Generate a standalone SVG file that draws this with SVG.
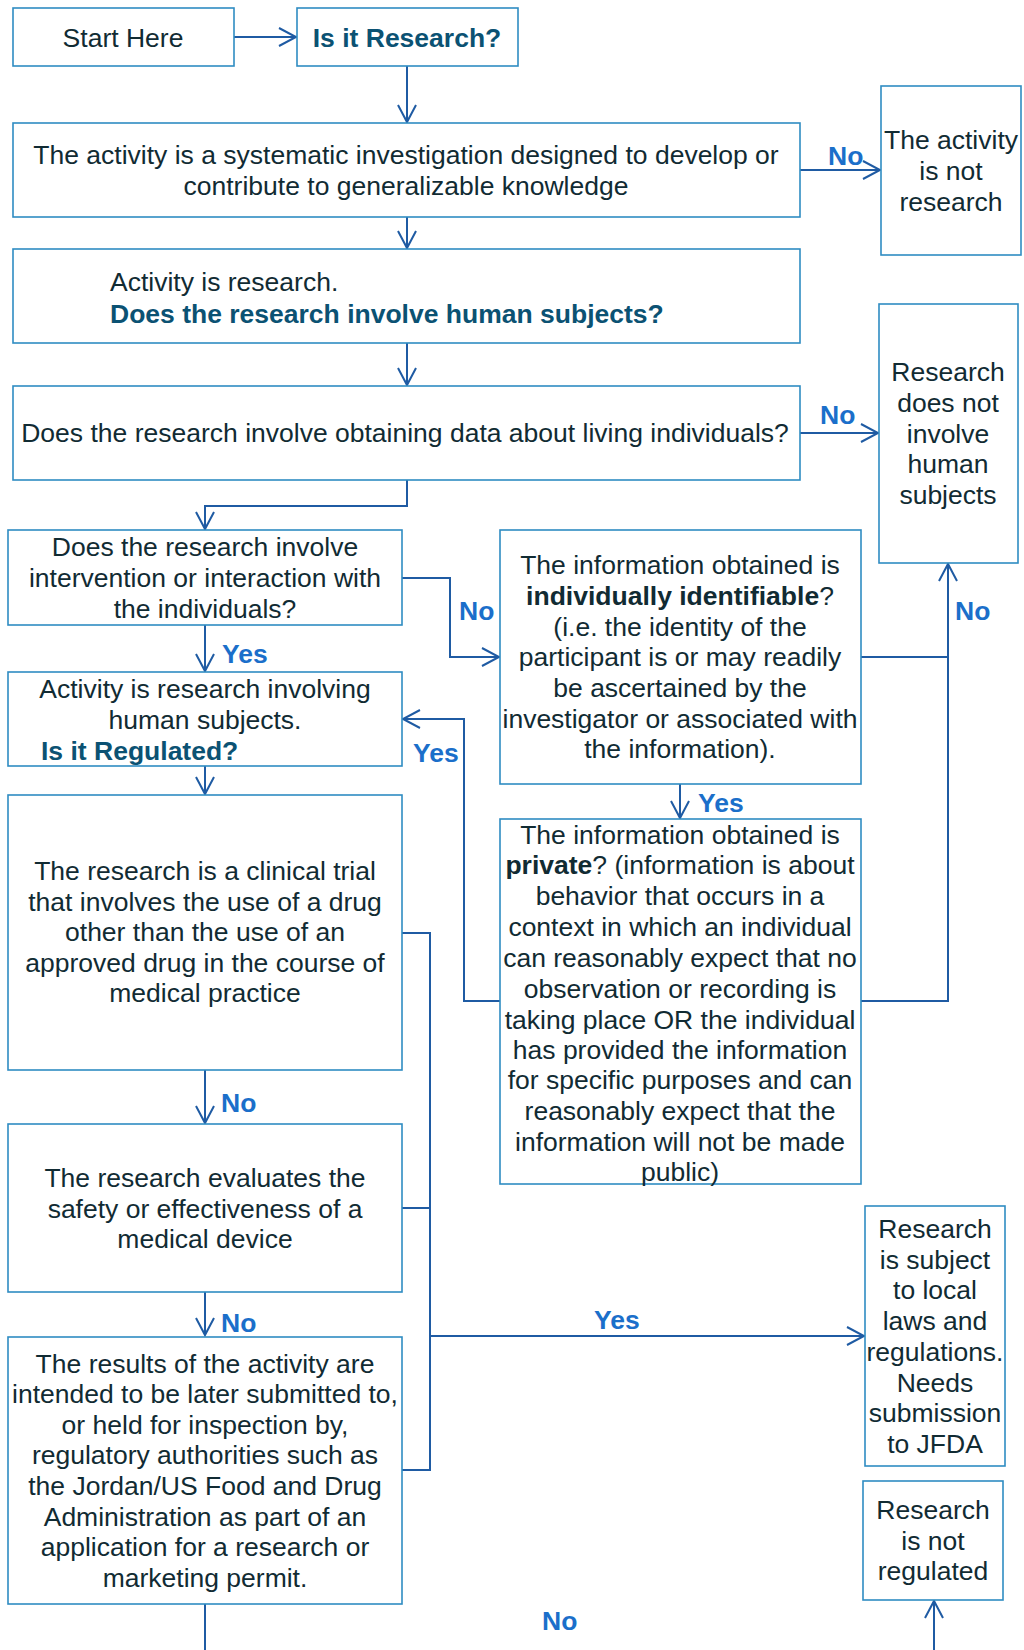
<svg xmlns="http://www.w3.org/2000/svg" width="1024" height="1650" viewBox="0 0 1024 1650">
<style>
.box{fill:#ffffff;stroke:#2f8cc2;stroke-width:1.6}
.t{font-family:"Liberation Sans",Arial,sans-serif;font-size:26.5px;fill:#112b33;text-anchor:middle}
.l{text-anchor:start}
.h{font-weight:bold;fill:#0b5273}
.b{font-weight:bold}
.lab{font-family:"Liberation Sans",Arial,sans-serif;font-size:26.5px;font-weight:bold;fill:#1b6fca}
.c{fill:none;stroke:#1f5ba3;stroke-width:2}
</style>
<defs>
<marker id="arr" markerUnits="userSpaceOnUse" markerWidth="20" markerHeight="20" viewBox="-20 -10 20 20" refX="0" refY="0" orient="auto" overflow="visible">
<path d="M-17,-9 L0,0 L-17,9" fill="none" stroke="#1f5ba3" stroke-width="2"/>
</marker>
</defs>
<rect width="1024" height="1650" fill="#ffffff"/>

<g id="connectors">
<path class="c" d="M234,37 H296" marker-end="url(#arr)"/>
<path class="c" d="M407,66 V122" marker-end="url(#arr)"/>
<path class="c" d="M800,170 H880" marker-end="url(#arr)"/>
<path class="c" d="M407,217 V248" marker-end="url(#arr)"/>
<path class="c" d="M407,343 V385" marker-end="url(#arr)"/>
<path class="c" d="M800,433 H878" marker-end="url(#arr)"/>
<path class="c" d="M407,480 V506 H205 V529" marker-end="url(#arr)"/>
<path class="c" d="M402,578 H450 V657 H499" marker-end="url(#arr)"/>
<path class="c" d="M205,625 V671" marker-end="url(#arr)"/>
<path class="c" d="M861,657 H948"/>
<path class="c" d="M861,1001 H948 V564" marker-end="url(#arr)"/>
<path class="c" d="M680,784 V818" marker-end="url(#arr)"/>
<path class="c" d="M500,1001 H464 V719 H403" marker-end="url(#arr)"/>
<path class="c" d="M205,766 V794" marker-end="url(#arr)"/>
<path class="c" d="M205,1070 V1123" marker-end="url(#arr)"/>
<path class="c" d="M205,1292 V1335" marker-end="url(#arr)"/>
<path class="c" d="M205,1604 V1650"/>
<path class="c" d="M402,933 H430 V1470 H402"/>
<path class="c" d="M402,1208 H430"/>
<path class="c" d="M430,1336 H864" marker-end="url(#arr)"/>
<path class="c" d="M934,1650 V1601" marker-end="url(#arr)"/>
<text class="lab" x="828" y="165">No</text>
<text class="lab" x="820" y="424">No</text>
<text class="lab" x="459" y="620">No</text>
<text class="lab" x="955" y="620">No</text>
<text class="lab" x="222" y="663">Yes</text>
<text class="lab" x="413" y="762">Yes</text>
<text class="lab" x="698" y="812">Yes</text>
<text class="lab" x="221" y="1112">No</text>
<text class="lab" x="221" y="1332">No</text>
<text class="lab" x="594" y="1329">Yes</text>
<text class="lab" x="542" y="1630">No</text>
</g>

<g id="start">
<rect class="box" x="13" y="8" width="221" height="58"/>
<text class="t" x="123" y="47">Start Here</text>
</g>
<g id="is-research">
<rect class="box" x="297" y="8" width="221" height="58"/>
<text class="t h" x="407" y="47">Is it Research?</text>
</g>
<g id="systematic">
<rect class="box" x="13" y="123" width="787" height="94"/>
<text class="t" x="406" y="164">The activity is a systematic investigation designed to develop or</text>
<text class="t" x="406" y="195">contribute to generalizable knowledge</text>
</g>
<g id="not-research">
<rect class="box" x="881" y="86" width="140" height="169"/>
<text class="t" x="951" y="149">The activity</text>
<text class="t" x="951" y="180">is not</text>
<text class="t" x="951" y="211">research</text>
</g>
<g id="activity-research">
<rect class="box" x="13" y="249" width="787" height="94"/>
<text class="t l" x="110" y="291">Activity is research.</text>
<text class="t l h" x="110" y="323">Does the research involve human subjects?</text>
</g>
<g id="living">
<rect class="box" x="13" y="386" width="787" height="94"/>
<text class="t" x="405" y="442">Does the research involve obtaining data about living individuals?</text>
</g>
<g id="no-human">
<rect class="box" x="879" y="304" width="139" height="259"/>
<text class="t" x="948" y="381">Research</text>
<text class="t" x="948" y="412">does not</text>
<text class="t" x="948" y="443">involve</text>
<text class="t" x="948" y="473">human</text>
<text class="t" x="948" y="504">subjects</text>
</g>
<g id="intervention">
<rect class="box" x="8" y="530" width="394" height="95"/>
<text class="t" x="205" y="556">Does the research involve</text>
<text class="t" x="205" y="587">intervention or interaction with</text>
<text class="t" x="205" y="618">the individuals?</text>
</g>
<g id="identifiable">
<rect class="box" x="500" y="530" width="361" height="254"/>
<text class="t" x="680" y="574">The information obtained is</text>
<text class="t" x="680" y="605"><tspan class="b">individually identifiable</tspan>?</text>
<text class="t" x="680" y="636">(i.e. the identity of the</text>
<text class="t" x="680" y="666">participant is or may readily</text>
<text class="t" x="680" y="697">be ascertained by the</text>
<text class="t" x="680" y="728">investigator or associated with</text>
<text class="t" x="680" y="758">the information).</text>
</g>
<g id="human-subjects">
<rect class="box" x="8" y="672" width="394" height="94"/>
<text class="t" x="205" y="698">Activity is research involving</text>
<text class="t" x="205" y="729">human subjects.</text>
<text class="t l h" x="41" y="760">Is it Regulated?</text>
</g>
<g id="private">
<rect class="box" x="500" y="819" width="361" height="365"/>
<text class="t" x="680" y="844">The information obtained is</text>
<text class="t" x="680" y="874"><tspan class="b">private</tspan>? (information is about</text>
<text class="t" x="680" y="905">behavior that occurs in a</text>
<text class="t" x="680" y="936">context in which an individual</text>
<text class="t" x="680" y="967">can reasonably expect that no</text>
<text class="t" x="680" y="998">observation or recording is</text>
<text class="t" x="680" y="1029">taking place OR the individual</text>
<text class="t" x="680" y="1059">has provided the information</text>
<text class="t" x="680" y="1089">for specific purposes and can</text>
<text class="t" x="680" y="1120">reasonably expect that the</text>
<text class="t" x="680" y="1151">information will not be made</text>
<text class="t" x="680" y="1181">public)</text>
</g>
<g id="clinical-trial">
<rect class="box" x="8" y="795" width="394" height="275"/>
<text class="t" x="205" y="880">The research is a clinical trial</text>
<text class="t" x="205" y="911">that involves the use of a drug</text>
<text class="t" x="205" y="941">other than the use of an</text>
<text class="t" x="205" y="972">approved drug in the course of</text>
<text class="t" x="205" y="1002">medical practice</text>
</g>
<g id="device">
<rect class="box" x="8" y="1124" width="394" height="168"/>
<text class="t" x="205" y="1187">The research evaluates the</text>
<text class="t" x="205" y="1218">safety or effectiveness of a</text>
<text class="t" x="205" y="1248">medical device</text>
</g>
<g id="submitted">
<rect class="box" x="8" y="1337" width="394" height="267"/>
<text class="t" x="205" y="1373">The results of the activity are</text>
<text class="t" x="205" y="1403">intended to be later submitted to,</text>
<text class="t" x="205" y="1434">or held for inspection by,</text>
<text class="t" x="205" y="1464">regulatory authorities such as</text>
<text class="t" x="205" y="1495">the Jordan/US Food and Drug</text>
<text class="t" x="205" y="1526">Administration as part of an</text>
<text class="t" x="205" y="1556">application for a research or</text>
<text class="t" x="205" y="1587">marketing permit.</text>
</g>
<g id="regulated">
<rect class="box" x="865" y="1206" width="140" height="260"/>
<text class="t" x="935" y="1238">Research</text>
<text class="t" x="935" y="1269">is subject</text>
<text class="t" x="935" y="1299">to local</text>
<text class="t" x="935" y="1330">laws and</text>
<text class="t" x="935" y="1361">regulations.</text>
<text class="t" x="935" y="1392">Needs</text>
<text class="t" x="935" y="1422">submission</text>
<text class="t" x="935" y="1453">to JFDA</text>
</g>
<g id="not-regulated">
<rect class="box" x="863" y="1481" width="140" height="119"/>
<text class="t" x="933" y="1519">Research</text>
<text class="t" x="933" y="1550">is not</text>
<text class="t" x="933" y="1580">regulated</text>
</g>
</svg>
